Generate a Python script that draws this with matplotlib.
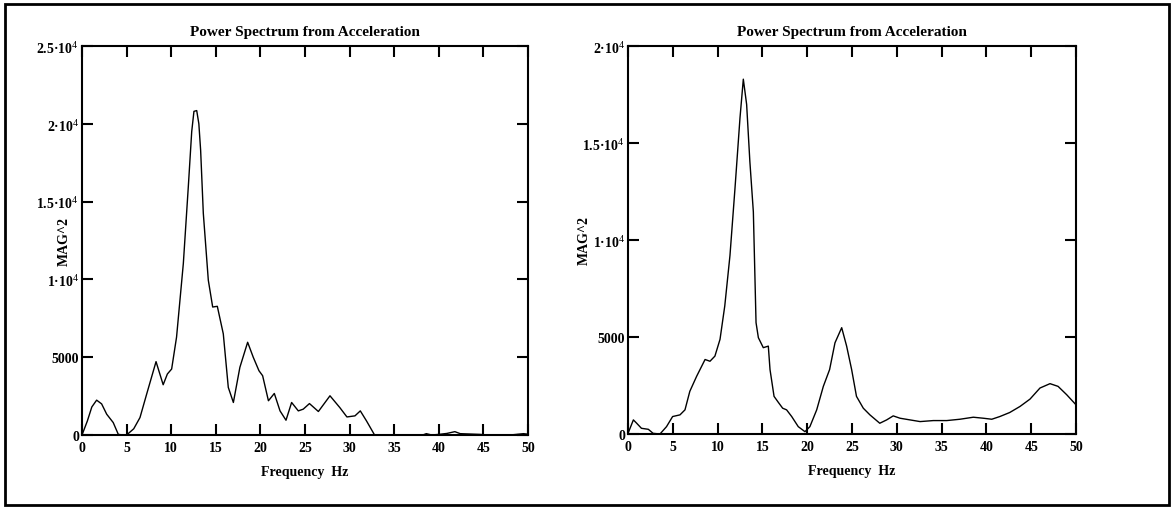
import matplotlib
matplotlib.use("Agg")
from matplotlib import pyplot as plt
from matplotlib.patches import Rectangle

plt.rcParams['font.family'] = ['Liberation Serif', 'DejaVu Serif']
plt.rcParams['mathtext.fontset'] = 'custom'
plt.rcParams['mathtext.rm'] = 'Liberation Serif'

# left spectrum (Hz, MAG^2)
f1 = [0, 0.6, 1.1, 1.64, 2.2, 2.77, 3.5, 4.07, 4.6, 5.0, 5.8, 6.5, 7.25, 8.3, 9.1, 9.57,
      10.05, 10.6, 11.36, 11.92, 12.3, 12.55, 12.86, 13.1, 13.3, 13.6, 14.16, 14.65, 15.17, 15.84,
      16.4, 16.97, 17.7, 18.57, 19.2, 19.84, 20.25, 20.9, 21.56, 22.2, 22.87, 23.5, 24.25,
      24.8, 25.5, 26.5, 27.8, 28.9, 29.7, 30.6, 31.2, 31.9, 32.8, 35, 38.2, 38.6, 39.2,
      40.0, 40.9, 41.8, 42.4, 44.6, 45.5, 48.0, 49.5, 50]
p1 = [0, 900, 1800, 2240, 2000, 1335, 800, 40, 0, 0, 400, 1120, 2630, 4715, 3230, 3920,
      4240, 6290, 11020, 15975, 19500, 20800, 20850, 20000, 18300, 14250, 9950, 8225, 8270, 6500,
      3060, 2090, 4350, 5960, 4995, 4130, 3810, 2200, 2670, 1550, 950, 2090, 1550,
      1660, 2020, 1510, 2520, 1765, 1160, 1230, 1550, 900, 0, 0, 0, 86, 0,
      40, 100, 215, 86, 40, 0, 0, 86, 50]

# right spectrum (Hz, MAG^2)
f2 = [0, 0.6, 0.97, 1.5, 2.27, 2.8, 3.57, 4.3, 4.98, 5.8, 6.36, 6.9, 7.66, 8.6, 9.15, 9.7,
      10.27, 10.8, 11.38, 11.94, 12.5, 12.87, 13.24, 13.6, 13.99, 14.29, 14.55, 15.1,
      15.66, 15.85, 16.3, 16.78, 17.26, 17.7, 18.27, 19.0, 19.75, 20.3, 21.06, 21.8, 22.5,
      23.1, 23.85, 24.4, 24.96, 25.5, 26.26, 27.0, 28.1, 28.87, 29.6, 30.36, 31.47, 32.6,
      34.08, 35.57, 37.05, 38.54, 39.66, 40.6, 41.5, 42.6, 43.75, 44.87, 45.98, 47.1,
      48.0, 48.96, 50]
p2 = [30, 727, 554, 294, 242, 35, 0, 380, 900, 986, 1245, 2200, 2975, 3840, 3750, 4015,
      4880, 6600, 9200, 12660, 16300, 18290, 16990, 14050, 11450, 5740, 4965, 4450,
      4530, 3320, 1940, 1630, 1330, 1245, 900, 380, 120, 380, 1245, 2455, 3320,
      4700, 5480, 4530, 3320, 1940, 1330, 986, 554, 727, 934, 813, 727, 640,
      692, 692, 761, 865, 813, 761, 900, 1107, 1420, 1800, 2370, 2595,
      2455, 2025, 1505]

xticks = [0, 5, 10, 15, 20, 25, 30, 35, 40, 45, 50]
yticks1 = [0, 5000, 10000, 15000, 20000, 25000]
ylabels1 = ['0', '5000', '1·10$^4$', '1.5·10$^4$', '2·10$^4$', '2.5·10$^4$']
yticks2 = [0, 5000, 10000, 15000, 20000]
ylabels2 = ['0', '5000', '1·10$^4$', '1.5·10$^4$', '2·10$^4$']

fig = plt.figure(figsize=(11.76, 5.10), dpi=100)
fig.patches.append(Rectangle((5 / 1176, 4 / 510), 1164 / 1176, 501 / 510, transform=fig.transFigure,
                             fill=False, edgecolor='black', linewidth=2))

ax1 = fig.add_axes([82 / 1176, 1 - 436 / 510, 446 / 1176, 389 / 510])
ax2 = fig.add_axes([628 / 1176, 1 - 435 / 510, 448 / 1176, 388 / 510])

for ax, f, p, yt, yl, ymax, lx in [(ax1, f1, p1, yticks1, ylabels1, 25000, -0.025),
                                   (ax2, f2, p2, yticks2, ylabels2, 20000, -0.083)]:
    ax.plot(f, p, color='black', linewidth=1)
    ax.set_xlim(0, 50)
    ax.set_ylim(0, ymax)
    ax.set_xticks(xticks)
    ax.set_xticklabels([str(t) for t in xticks], fontsize=10, fontweight='bold')
    ax.set_yticks(yt)
    ax.set_yticklabels(yl, fontsize=10, fontweight='bold')
    ax.tick_params(direction='in', length=8, width=1.5, top=True, right=True, pad=4)
    ax.tick_params(axis='y', pad=2)
    for s in ax.spines.values():
        s.set_linewidth(1.5)
    ax.set_title('Power Spectrum from Acceleration', fontsize=11, fontweight='bold', pad=8)
    ax.set_xlabel('Frequency  Hz', fontsize=10, fontweight='bold', labelpad=8)
    ax.set_ylabel('MAG^2', fontsize=10, fontweight='bold')
    ax.yaxis.set_label_coords(lx, 0.5)

fig.savefig('out.png', dpi=100)
